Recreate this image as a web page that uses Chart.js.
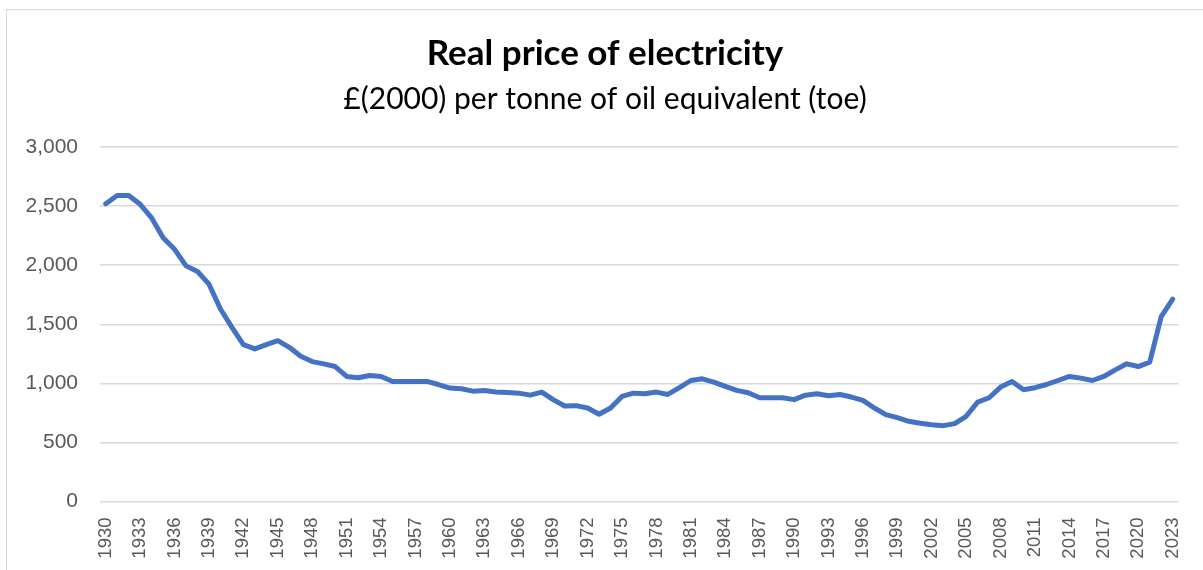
<!DOCTYPE html>
<html>
<head>
<meta charset="utf-8">
<script src="https://cdn.jsdelivr.net/npm/chart.js@4"></script>
<style>
    body { margin: 0; background: #fff; }
    #wrap { position: relative; width: 1203px; height: 570px; overflow: hidden; }
    #frame { position: absolute; left: 6px; top: 9px; right: -5px; bottom: -5px; border-left: 1px solid #d9d9d9; border-top: 1px solid #d9d9d9; }
    #chart { position: absolute; left: 0; top: 0; }
</style>
</head>
<body>
<div id="wrap">
    <div id="frame"></div>
    <canvas id="chart" width="1203" height="570"></canvas>
</div>
<script>
const firstYear = 1930;
const lastYear = 2023;
const years = Array.from({ length: lastYear - firstYear + 1 }, (_, i) => String(firstYear + i));

// £(2000) per toe
const price1930s = [2520, 2590, 2590, 2515, 2400, 2232, 2134, 1994, 1946, 1839];
const price1940s = [1629, 1474, 1328, 1291, 1328, 1361, 1305, 1229, 1184, 1165];
const price1950s = [1142, 1058, 1047, 1066, 1058, 1016, 1016, 1016, 1016, 990];
const price1960s = [960, 954, 934, 940, 926, 923, 917, 900, 926, 862];
const price1970s = [808, 811, 791, 738, 791, 889, 917, 912, 926, 906];
const price1980s = [963, 1024, 1038, 1010, 974, 940, 920, 878, 878, 878];
const price1990s = [862, 900, 912, 895, 906, 884, 856, 791, 735, 710];
const price2000s = [679, 662, 650, 642, 659, 721, 841, 878, 968, 1016];
const price2010s = [946, 963, 990, 1024, 1058, 1044, 1024, 1058, 1114, 1165];
const price2020s = [1142, 1179, 1564, 1713];

const prices = [].concat(price1930s, price1940s, price1950s, price1960s, price1970s,
    price1980s, price1990s, price2000s, price2010s, price2020s);

const yMin = 0;
const yMax = 3000;
const yStep = 500;

const tickColor = '#595959';

// the titles sit a bit right of the canvas centre in the original
const shiftTitles = {
    id: 'shiftTitles',
    afterLayout(chart) {
        chart.boxes.forEach(function (box) {
            if (box.position === 'top' && box.options && box.options.text !== undefined) {
                box.left += 15;
                box.right += 15;
            }
        });
    }
};

new Chart(document.getElementById('chart'), {
    type: 'line',
    data: {
        labels: years,
        datasets: [{
            data: prices,
            borderColor: '#4472C4',
            borderWidth: 5,
            borderCapStyle: 'round',
            borderJoinStyle: 'round',
            pointRadius: 0,
            tension: 0,
            fill: false
        }]
    },
    plugins: [shiftTitles],
    options: {
        responsive: false,
        animation: false,
        layout: { padding: { left: 0, right: 23, top: 0, bottom: 0 } },
        plugins: {
            legend: { display: false },
            tooltip: { enabled: false },
            title: {
                display: true,
                text: 'Real price of electricity',
                color: '#000',
                font: { family: 'Lato', size: 35, weight: 'bold' },
                padding: { top: 33, bottom: 0 }
            },
            subtitle: {
                display: true,
                text: '£(2000) per tonne of oil equivalent (toe)',
                color: '#000',
                font: { family: 'Lato', size: 30 },
                padding: { top: 6, bottom: 30 }
            }
        },
        scales: {
            x: {
                offset: true,
                grid: { display: false },
                border: { display: false },
                afterFit: function (scale) { scale.height = 68.5; },
                ticks: {
                    autoSkip: false,
                    minRotation: 90,
                    maxRotation: 90,
                    padding: 8,
                    color: tickColor,
                    font: { family: 'Liberation Sans', size: 18.5 },
                    callback: function (value, index) {
                        return index % 3 === 0 ? this.getLabelForValue(value) : '';
                    }
                }
            },
            y: {
                min: yMin,
                max: yMax,
                afterFit: function (scale) { scale.width = 100; },
                grid: { color: '#d9d9d9', lineWidth: 1.5, drawTicks: false },
                border: { display: false },
                ticks: {
                    stepSize: yStep,
                    padding: 22,
                    color: tickColor,
                    font: { family: 'Liberation Sans', size: 21 }
                }
            }
        }
    }
});
</script>
</body>
</html>
